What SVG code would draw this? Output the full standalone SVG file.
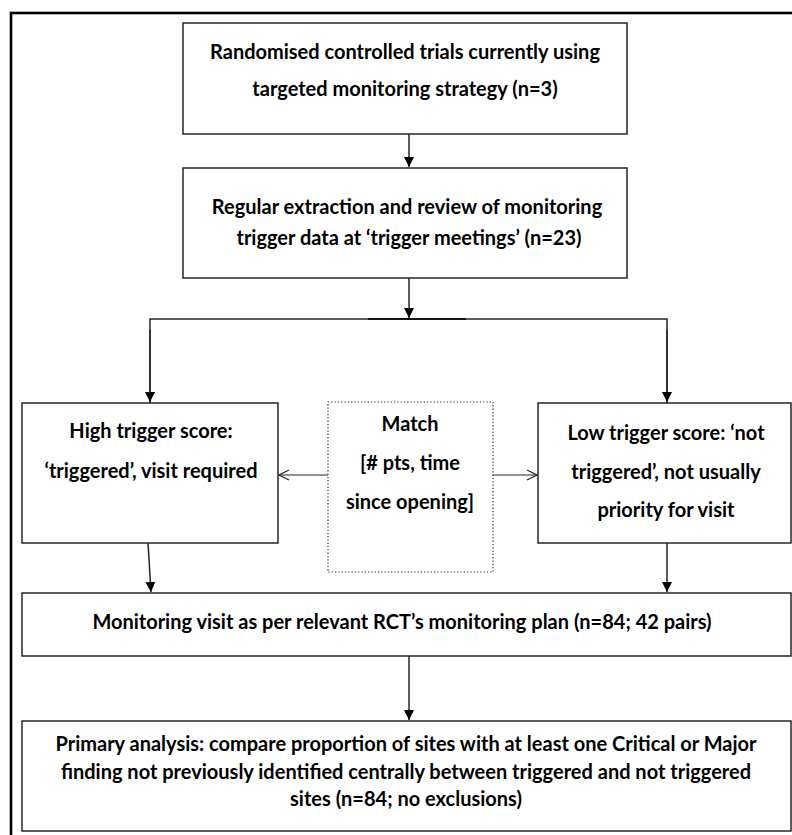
<svg xmlns="http://www.w3.org/2000/svg" width="792" height="835" viewBox="0 0 792 835">
<style>
.box{fill:#fff;stroke:#262626;stroke-width:1.5}
.dot{fill:#fff;stroke:#333;stroke-width:1.2;stroke-dasharray:1.3 2}
.ln{fill:none;stroke:#262626;stroke-width:1.5}
.open{fill:none;stroke:#262626;stroke-width:1.2}
text{font-family:Lato,"Liberation Sans",sans-serif;font-weight:bold;font-size:20px;fill:#000;text-anchor:middle}
</style>
<defs>
<marker id="fa" viewBox="0 0 10 10" refX="10" refY="5" markerWidth="10" markerHeight="10" markerUnits="userSpaceOnUse" orient="auto">
<path d="M0,0 L10,5 L0,10 Z" fill="#000"/>
</marker>
<marker id="oa" viewBox="0 0 12 12" refX="11" refY="6" markerWidth="12" markerHeight="12" markerUnits="userSpaceOnUse" orient="auto">
<path d="M1,1 L11,6 L1,11" fill="none" stroke="#262626" stroke-width="1.2"/>
</marker>
</defs>
<rect x="0" y="0" width="792" height="835" fill="#fff"/>
<rect id="frame" x="11" y="13" width="800" height="840" fill="none" stroke="#000" stroke-width="2.6"/>

<g id="connectors">
<line class="ln" x1="409" y1="134" x2="409" y2="167" marker-end="url(#fa)"/>
<line class="ln" x1="409" y1="278" x2="409" y2="318" marker-end="url(#fa)"/>
<polyline class="ln" points="150,403 150,319 667,319 667,403"/>
<line x1="368" y1="319" x2="466" y2="319" stroke="#111" stroke-width="2"/>
<line class="ln" x1="150" y1="330" x2="150" y2="402" marker-end="url(#fa)"/>
<line class="ln" x1="667" y1="330" x2="667" y2="402" marker-end="url(#fa)"/>
<line class="open" x1="328" y1="475" x2="279" y2="475" marker-end="url(#oa)"/>
<line class="open" x1="493" y1="475" x2="537" y2="475" marker-end="url(#oa)"/>
<line class="ln" x1="148" y1="543" x2="151" y2="592" marker-end="url(#fa)"/>
<line class="ln" x1="667" y1="543" x2="667" y2="592" marker-end="url(#fa)"/>
<line class="ln" x1="409" y1="656" x2="409" y2="720" marker-end="url(#fa)"/>
</g>

<g id="rcts">
<rect class="box" x="183" y="23" width="444" height="111"/>
<text x="405" y="59">Randomised controlled trials currently using</text>
<text x="405" y="96">targeted monitoring strategy (n=3)</text>
</g>

<g id="extraction">
<rect class="box" x="183" y="168" width="444" height="110"/>
<text x="407" y="214">Regular extraction and review of monitoring</text>
<text x="409" y="245">trigger data at ‘trigger meetings’ (n=23)</text>
</g>

<g id="high">
<rect class="box" x="22" y="403" width="256" height="140"/>
<text x="151" y="438">High trigger score:</text>
<text x="151" y="478">‘triggered’, visit required</text>
</g>

<g id="match">
<rect class="dot" x="328" y="402" width="165" height="170"/>
<text x="410" y="431">Match</text>
<text x="410" y="470">[# pts, time</text>
<text x="410" y="509">since opening]</text>
</g>

<g id="low">
<rect class="box" x="538" y="403" width="253" height="140"/>
<text x="666" y="440">Low trigger score: ‘not</text>
<text x="666" y="479">triggered’, not usually</text>
<text x="666" y="517">priority for visit</text>
</g>

<g id="visit">
<rect class="box" x="22" y="593" width="769" height="63"/>
<text x="402" y="629">Monitoring visit as per relevant RCT’s monitoring plan (n=84; 42 pairs)</text>
</g>

<g id="analysis">
<rect class="box" x="22" y="721" width="769" height="110"/>
<text x="406" y="751">Primary analysis: compare proportion of sites with at least one Critical or Major</text>
<text x="406" y="779">finding not previously identified centrally between triggered and not triggered</text>
<text x="406" y="806">sites (n=84; no exclusions)</text>
</g>
</svg>
